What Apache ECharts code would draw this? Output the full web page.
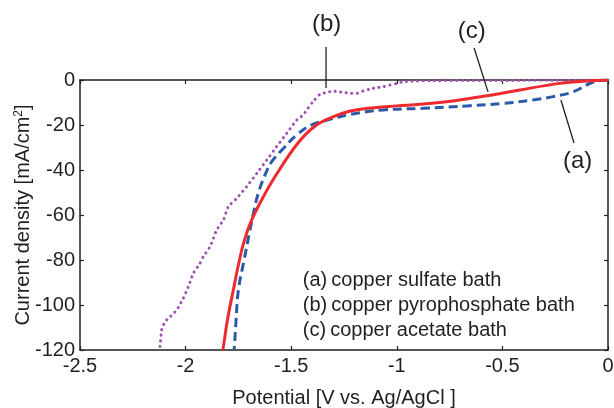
<!DOCTYPE html>
<html>
<head>
<meta charset="utf-8">
<script src="https://cdn.jsdelivr.net/npm/echarts@6/dist/echarts.min.js"></script>
<style>html,body{margin:0;padding:0;background:#fff;}#c{width:614px;height:408px;}</style>
</head>
<body>
<div id="c"></div>
<script>
// (a) copper sulfate bath - blue dashed
const aV = [0, -0.07, -0.166, -0.26, -0.355, -0.497, -0.653, -0.876, -1.065, -1.22, -1.33, -1.405, -1.474, -1.537, -1.592, -1.624, -1.656, -1.679, -1.697, -1.723, -1.750, -1.761, -1.769, -1.771];
const aI = [0, -0.9, -5.3, -7.4, -8.9, -10.4, -11.4, -12.6, -13.3, -15.3, -17.8, -20, -24.4, -30.4, -36.3, -42.2, -50.4, -59.3, -67.5, -80, -93.3, -106.7, -118.5, -120];
// (b) copper pyrophosphate bath - purple dotted
const bV = [0, -0.5, -0.843, -0.904, -0.971, -0.999, -1.032, -1.065, -1.094, -1.127, -1.160, -1.188, -1.222, -1.245, -1.278, -1.302, -1.330, -1.364, -1.397, -1.42, -1.444, -1.474, -1.521, -1.569, -1.616, -1.663, -1.711, -1.758, -1.798, -1.821, -1.853, -1.884, -1.916, -1.932, -1.964, -1.987, -2.011, -2.042, -2.082, -2.098, -2.113, -2.121, -2.123];
const bI = [0, -0.2, -0.3, -0.4, -0.8, -1.5, -2.2, -3.0, -3.4, -4.0, -4.9, -5.9, -5.9, -5.6, -5.2, -4.9, -5.5, -6.4, -9.6, -12.5, -15.6, -17.8, -23.7, -29.6, -35.6, -41.5, -47.4, -52.6, -56.3, -62.2, -66.7, -74, -78.5, -81.5, -86, -91.9, -97, -102.2, -106, -107.4, -111, -118.5, -120];
// (c) copper acetate bath - red solid
const cV = [0, -0.1, -0.227, -0.417, -0.573, -0.734, -0.89, -1.0, -1.14, -1.22, -1.30, -1.385, -1.468, -1.577, -1.640, -1.687, -1.719, -1.745, -1.774, -1.802, -1.821, -1.824];
const cI = [0, -0.4, -1.5, -4.4, -7, -9.3, -10.8, -11.5, -12.6, -13.8, -16.3, -20.3, -28, -43, -53.3, -62.2, -70.4, -80, -93.3, -106.7, -118.5, -120];

const xTicks = [-2.5, -2, -1.5, -1, -0.5, 0];
const yTicks = [-120, -100, -80, -60, -40, -20, 0];
const legendLines = ['(a)\u2009copper sulfate bath', '(b)\u2009copper pyrophosphate bath', '(c)\u2009copper acetate bath'];
// annotation labels: text, label position, leader start, leader end (data units)
const annTexts = ['(b)', '(c)', '(a)'];
const annLabel = [[-1.332, 24.9], [-0.645, 21.5], [-0.144, -36.3]];
const annFrom = [[-1.335, 14.7], [-0.634, 14.2], [-0.223, -8.9]];
const annTo = [[-1.335, -3.6], [-0.568, -5.3], [-0.161, -28]];

const FONT = "'Liberation Sans', Arial, Helvetica, sans-serif";
const TXT = '#231f20';
const pairs = (xs, ys) => xs.map((x, i) => [x, ys[i]]);

const chart = echarts.init(document.getElementById('c'), null, {renderer: 'canvas'});
const axisCommon = {
  axisLine: {show: true, onZero: false, lineStyle: {color: TXT, width: 1.5}},
  axisTick: {show: true, inside: true, length: 4, lineStyle: {color: TXT, width: 1.2}},
  splitLine: {show: false}
};
chart.setOption({
  animation: false,
  backgroundColor: '#fff',
  grid: {left: 80, right: 6, top: 80, bottom: 58, containLabel: false, outerBoundsMode: 'none'},
  xAxis: [
    Object.assign({
      type: 'value', min: -2.5, max: 0, interval: 0.5, position: 'bottom',
      name: 'Potential [V vs. Ag/AgCl ]', nameLocation: 'middle', nameGap: 38, nameMoveOverlap: false,
      nameTextStyle: {fontFamily: FONT, fontSize: 20, color: TXT},
      axisLabel: {fontFamily: FONT, fontSize: 20, color: TXT, margin: 6,
        formatter: v => String(xTicks.find(t => Math.abs(t - v) < 1e-9) ?? v)}
    }, axisCommon),
    Object.assign({
      type: 'value', min: -2.5, max: 0, interval: 0.5, position: 'top',
      axisLabel: {show: false}
    }, axisCommon)
  ],
  yAxis: [
    Object.assign({
      type: 'value', min: -120, max: 0, interval: 20, position: 'left',
      name: 'Current density [mA/cm{sup|2}]', nameLocation: 'middle', nameGap: 46, nameRotate: 90, nameMoveOverlap: false,
      nameTextStyle: {fontFamily: FONT, fontSize: 20, color: TXT,
        rich: {sup: {fontFamily: FONT, fontSize: 12, color: TXT, verticalAlign: 'top', padding: [0, 0, 9, 0]}}},
      axisLabel: {fontFamily: FONT, fontSize: 20, color: TXT, margin: 5,
        formatter: v => String(yTicks.find(t => t === v) ?? v)}
    }, axisCommon),
    Object.assign({
      type: 'value', min: -120, max: 0, interval: 20, position: 'right',
      axisLabel: {show: false}
    }, axisCommon)
  ],
  series: [
    {type: 'line', name: '(b)', data: pairs(bV, bI), showSymbol: false, smooth: 0.2,
     lineStyle: {color: '#a050b2', width: 3, type: [0.1, 5.5], cap: 'round'}, z: 2},
    {type: 'line', name: '(a)', data: pairs(aV, aI), showSymbol: false, smooth: 0.4,
     lineStyle: {color: '#2a5aa8', width: 3, type: [9, 5]}, z: 3},
    {type: 'line', name: '(c)', data: pairs(cV, cI), showSymbol: false, smooth: 0.4,
     lineStyle: {color: '#ee2a2e', width: 3}, z: 4}
  ]
});

const px = p => chart.convertToPixel({xAxisIndex: 0, yAxisIndex: 0}, p);
const graphics = [];
annTexts.forEach((t, i) => {
  const l = px(annLabel[i]), f = px(annFrom[i]), e = px(annTo[i]);
  graphics.push({type: 'text', x: l[0], y: l[1], z: 10,
    style: {text: t, fontFamily: FONT, fontSize: 24, fill: TXT, textAlign: 'center', textVerticalAlign: 'middle'}});
  graphics.push({type: 'line', z: 10, shape: {x1: f[0], y1: f[1], x2: e[0], y2: e[1]},
    style: {stroke: TXT, lineWidth: 1.3}});
});
const lg = px([-1.445, -88.9]);
legendLines.forEach((t, i) => {
  graphics.push({type: 'text', x: lg[0], y: lg[1] + i * 25, z: 10,
    style: {text: t, fontFamily: FONT, fontSize: 20, fill: TXT, textAlign: 'left', textVerticalAlign: 'middle'}});
});
chart.setOption({graphic: graphics});
</script>
</body>
</html>
